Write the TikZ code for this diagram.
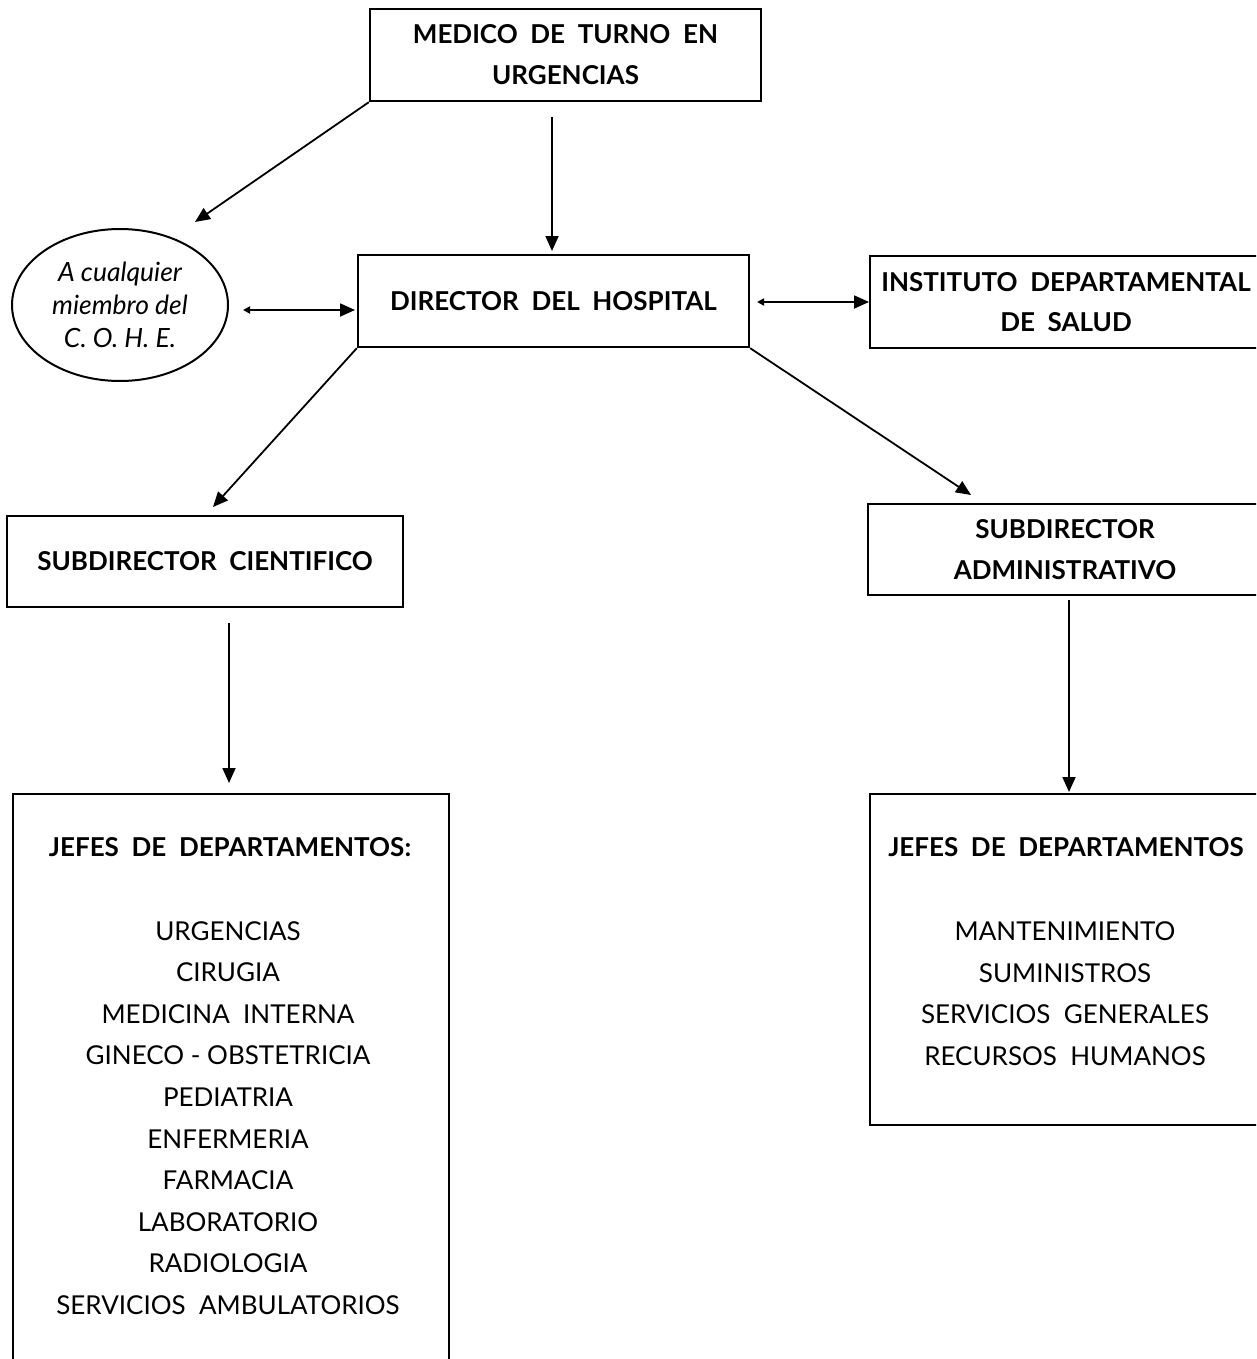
\documentclass[tikz,border=0pt]{standalone}
\usepackage{fontspec}
\setmainfont{Lato}
\usetikzlibrary{arrows.meta,shapes.geometric}
\begin{document}
\begin{tikzpicture}[x=1pt,y=-1pt,
  box/.style={draw,line width=2.4pt,rectangle,inner sep=0pt},
  head/.style={font=\bfseries\fontsize{26}{41}\selectfont,align=center},
  plain/.style={font=\fontsize{26}{41.6}\selectfont,align=center,inner sep=0pt},
  conn/.style={line width=1.8pt,-{Triangle[length=15pt,width=13pt]}},
  dconn/.style={line width=1.8pt,{Triangle[length=7pt,width=7pt]}-{Triangle[length=15pt,width=13pt]}}]
\useasboundingbox (0,0) rectangle (1256,1359);
\fill[white] (0,0) rectangle (1256,1359);
\begin{scope}
\clip (0,0) rectangle (1256,1359);
% boxes
\node[box,head,minimum width=391pt,minimum height=92pt] (medico) at (565.5,55)
  {MEDICO\ \ DE\ \ TURNO\ \ EN\\URGENCIAS};
\node[draw,line width=2pt,ellipse,minimum width=216pt,minimum height=152pt,inner sep=0pt,
  font=\itshape\fontsize{26.5}{33}\selectfont,align=center] (cohe) at (120,305)
  {A cualquier\\miembro del\\C. O. H. E.};
\node[box,head,minimum width=391pt,minimum height=92pt] (director) at (553.5,301)
  {DIRECTOR\ \ DEL\ \ HOSPITAL};
\node[box,head,minimum width=392pt,minimum height=92pt] (instituto) at (1066,302)
  {INSTITUTO\ \ DEPARTAMENTAL\\[-1pt]DE\ \ SALUD};
\node[box,head,minimum width=396pt,minimum height=91pt] (cientifico) at (205,561.5)
  {SUBDIRECTOR\ \ CIENTIFICO};
\node[box,head,minimum width=394pt,minimum height=91pt] (admin) at (1065,549.5)
  {SUBDIRECTOR\\ADMINISTRATIVO};
\node[box,minimum width=436pt,minimum height=600pt,anchor=north west] (ljefes) at (12,793) {};
\node[box,minimum width=393pt,minimum height=331pt,anchor=north west] (rjefes) at (869,793) {};
% texts inside department boxes
\node[head] (ltitle) at (230,847) {JEFES\ \ DE\ \ DEPARTAMENTOS:};
\node[plain] (llist) at (228,1118) {URGENCIAS\\CIRUGIA\\MEDICINA\ \ INTERNA\\GINECO - OBSTETRICIA\\PEDIATRIA\\ENFERMERIA\\FARMACIA\\LABORATORIO\\RADIOLOGIA\\SERVICIOS\ \ AMBULATORIOS};
\node[head] (rtitle) at (1066,847) {JEFES\ \ DE\ \ DEPARTAMENTOS};
\node[plain] (rlist) at (1065,993.5) {MANTENIMIENTO\\SUMINISTROS\\SERVICIOS\ \ GENERALES\\RECURSOS\ \ HUMANOS};
\end{scope}
% connector ends
\coordinate (c1) at (195,222);
\coordinate (m1) at (552,117);
\coordinate (m2) at (552,251);
\coordinate (e1) at (243,310);
\coordinate (e2) at (355,310);
\coordinate (d1) at (757,302);
\coordinate (d2) at (869,302);
\coordinate (s1) at (213,507);
\coordinate (s2) at (971,495);
\coordinate (v1) at (229,623);
\coordinate (v2) at (229,783);
\coordinate (w1) at (1069,600);
\coordinate (w2) at (1069,792);
% connectors
\draw[conn] (medico.south west) -- (c1);
\draw[conn] (m1) -- (m2);
\draw[dconn] (e1) -- (e2);
\draw[dconn] (d1) -- (d2);
\draw[conn] (director.south west) -- (s1);
\draw[conn] (director.south east) -- (s2);
\draw[conn] (v1) -- (v2);
\draw[conn] (w1) -- (w2);
\end{tikzpicture}
\end{document}
